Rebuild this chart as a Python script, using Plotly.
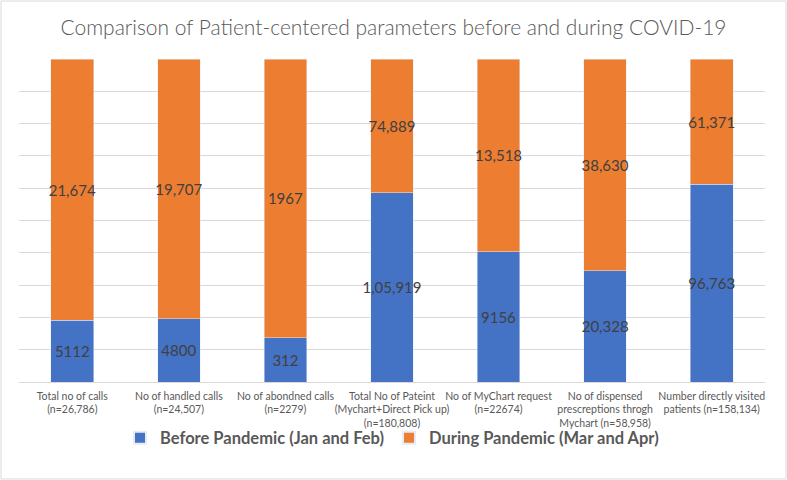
import plotly.graph_objects as go

categories = [
    "Total no of calls<br>(n=26,786)",
    "No of handled calls<br>(n=24,507)",
    "No of abondned calls<br>(n=2279)",
    "Total No of Pateint<br>(Mychart+Direct Pick up)<br>(n=180,808)",
    "No of MyChart request<br>(n=22674)",
    "No of dispensed<br>prescreptions throgh<br>Mychart (n=58,958)",
    "Number directly visited<br>patients (n=158,134)",
]
before_values = [5112, 4800, 312, 105919, 9156, 20328, 96763]
before_labels = ["5112", "4800", "312", "1,05,919", "9156", "20,328", "96,763"]
during_values = [21674, 19707, 1967, 74889, 13518, 38630, 61371]
during_labels = ["21,674", "19,707", "1967", "74,889", "13,518", "38,630", "61,371"]

FONT = "Lato"
fig = go.Figure()
fig.add_trace(go.Bar(
    x=categories, y=before_values, name="Before Pandemic (Jan and Feb)",
    marker_color="#4472C4", text=before_labels, textposition="inside",
    insidetextanchor="middle", textfont=dict(size=15, color="#404040", family=FONT),
    textangle=0, hoverinfo="y", cliponaxis=False, constraintext="none",
))
fig.add_trace(go.Bar(
    x=categories, y=during_values, name="During Pandemic (Mar and Apr)",
    marker_color="#ED7D31", text=during_labels, textposition="inside",
    insidetextanchor="middle", textfont=dict(size=15, color="#404040", family=FONT),
    textangle=0, hoverinfo="y", cliponaxis=False, constraintext="none",
))

L, R, T, B = 19, 22, 59, 98
W, H = 787, 480
pw, ph = W - L - R, H - T - B

fig.update_layout(
    width=W, height=H,
    barmode="stack", barnorm="percent", bargap=0.6,
    margin=dict(l=L, r=R, t=T, b=B, autoexpand=False),
    paper_bgcolor="white", plot_bgcolor="white",
    title=dict(text="Comparison of Patient-centered parameters before and during COVID-19",
               x=0.5, xanchor="center", y=1 - 28 / H, yanchor="middle",
               font=dict(family=FONT, size=21, color="#595959", weight=300)),
    font=dict(family=FONT, color="#595959"),
    uniformtext=dict(mode="show", minsize=15),
    legend=dict(orientation="h", x=0.5, xanchor="center", y=-(438 - (T + ph)) / ph,
                yanchor="middle", bgcolor="rgba(0,0,0,0)",
                font=dict(family=FONT, size=16.5, color="#595959", weight="bold"),
                traceorder="normal", itemsizing="constant", itemwidth=30),
    shapes=[dict(type="rect", xref="paper", yref="paper",
                 x0=-(L - 1) / pw, x1=1 + (R - 1) / pw,
                 y0=-(B - 1) / ph, y1=1 + (T - 1) / ph,
                 line=dict(color="#d9d9d9", width=1), layer="below")],
)
fig.update_xaxes(showline=True, linecolor="#d9d9d9", linewidth=1, ticks="",
                 tickfont=dict(family=FONT, size=10.5, color="#595959"), tickangle=0,
                 automargin=False, ticklabelstandoff=4)
fig.update_yaxes(range=[0, 100], dtick=10, showticklabels=False, showgrid=True,
                 gridcolor="#d9d9d9", gridwidth=1, zeroline=False, automargin=False)

fig.write_html("out.html", config={"displayModeBar": False},
               post_script="document.body.style.margin='0';document.body.style.overflow='hidden';")
